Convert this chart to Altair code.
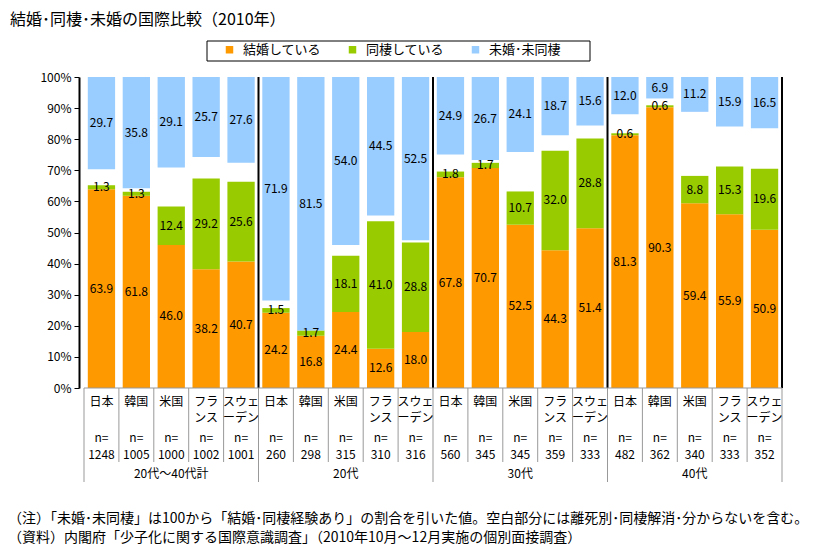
import altair as alt
import pandas as pd

FONT = "Noto Sans CJK JP"

groups = ["20代～40代計", "20代", "30代", "40代"]
countries = ["日本", "韓国", "米国", "フラ\nンス", "スウェ\nーデン"]
n_values = [1248, 1005, 1000, 1002, 1001,
            260, 298, 315, 310, 316,
            560, 345, 345, 359, 333,
            482, 362, 340, 333, 352]
married = [63.9, 61.8, 46.0, 38.2, 40.7,
           24.2, 16.8, 24.4, 12.6, 18.0,
           67.8, 70.7, 52.5, 44.3, 51.4,
           81.3, 90.3, 59.4, 55.9, 50.9]
cohabiting = [1.3, 1.3, 12.4, 29.2, 25.6,
              1.5, 1.7, 18.1, 41.0, 28.8,
              1.8, 1.7, 10.7, 32.0, 28.8,
              0.6, 0.6, 8.8, 15.3, 19.6]
single = [29.7, 35.8, 29.1, 25.7, 27.6,
          71.9, 81.5, 54.0, 44.5, 52.5,
          24.9, 26.7, 24.1, 18.7, 15.6,
          12.0, 6.9, 11.2, 15.9, 16.5]
series = ["結婚している", "同棲している", "未婚･未同棲"]
colors = ["#FF9900", "#99CC00", "#99CCFF"]
y_ticks = list(range(0, 101, 10))

title_text = "結婚･同棲･未婚の国際比較（2010年）"
notes = [
    "（注）「未婚･未同棲」は100から「結婚･同棲経験あり」の割合を引いた値。空白部分には離死別･同棲解消･分からないを含む。",
    "（資料）内閣府「少子化に関する国際意識調査」（2010年10月～12月実施の個別面接調査）",
]

# ---- build tables from the lists ----
seg_rows, cat_rows = [], []
n_cat = len(n_values)
per_group = len(countries)
for i in range(n_cat):
    pos = i + 0.5
    m, c, s = married[i], cohabiting[i], single[i]
    seg_rows.append(dict(pos=pos, series=series[0], y0=0, y1=m, value=m))
    seg_rows.append(dict(pos=pos, series=series[1], y0=m, y1=m + c, value=c))
    seg_rows.append(dict(pos=pos, series=series[2], y0=100 - s, y1=100, value=s))
    parts = countries[i % per_group].split("\n")
    cat_rows.append(dict(pos=pos, line1=parts[0],
                         line2=parts[1] if len(parts) > 1 else "",
                         n=str(n_values[i])))
seg = pd.DataFrame(seg_rows)
cats = pd.DataFrame(cat_rows)
grp = pd.DataFrame(dict(pos=[g * per_group + per_group / 2 for g in range(len(groups))],
                        label=groups))
bounds = pd.DataFrame(dict(x=[g * per_group for g in range(1, len(groups) + 1)]))
all_lines = pd.DataFrame(dict(x=[i for i in range(n_cat + 1) if i % per_group != 0]))
grp_lines = pd.DataFrame(dict(x=[g * per_group for g in range(len(groups) + 1)]))
one = pd.DataFrame(dict(k=[0]))

W, H = 708, 311
xscale = alt.Scale(domain=[0, n_cat], nice=False, zero=False)
yscale = alt.Scale(domain=[0, 100], nice=False)
yaxis = alt.Axis(values=y_ticks, labelExpr="datum.value + '%'", grid=False,
                 domainColor="black", domainWidth=2, tickColor="black",
                 tickSize=5, tickWidth=1, labelFontSize=12, labelColor="black",
                 labelPadding=3, labelFont=FONT, labelOverlap=False,
                 labelFlush=False, orient="left")

bars = alt.Chart(seg).mark_bar(size=27.3).encode(
    x=alt.X("pos:Q", scale=xscale, axis=None),
    y=alt.Y("y0:Q", scale=yscale, title="", axis=yaxis),
    y2="y1:Q",
    color=alt.Color("series:N", scale=alt.Scale(domain=series, range=colors),
                    legend=alt.Legend(orient="none", legendX=144, legendY=-34,
                                      direction="horizontal", title=None,
                                      symbolType="square", symbolSize=56,
                                      symbolStrokeWidth=0, labelFontSize=13,
                                      labelFont=FONT, labelColor="black",
                                      labelOffset=7, columnPadding=24, labelLimit=300)),
)

values = alt.Chart(seg).transform_calculate(
    mid="(datum.y0 + datum.y1) / 2"
).mark_text(fontSize=12, font=FONT, color="black").encode(
    x=alt.X("pos:Q", scale=xscale, axis=None),
    y=alt.Y("mid:Q", scale=yscale, axis=None),
    text=alt.Text("value:Q", format=".1f"),
)

sep_in = alt.Chart(bounds).mark_rule(color="black", strokeWidth=2).encode(
    x=alt.X("x:Q", scale=xscale, axis=None), y=alt.value(0), y2=alt.value(H))

base_line = alt.Chart(one).mark_rule(color="#999999", strokeWidth=1).encode(
    x=alt.datum(0, scale=xscale, axis=None), x2=alt.datum(n_cat), y=alt.value(H))

cat_sep = alt.Chart(all_lines).mark_rule(color="#999999", strokeWidth=1).encode(
    x=alt.X("x:Q", scale=xscale, axis=None), y=alt.value(H), y2=alt.value(385))
grp_sep = alt.Chart(grp_lines).mark_rule(color="#999999", strokeWidth=1).encode(
    x=alt.X("x:Q", scale=xscale, axis=None), y=alt.value(H), y2=alt.value(405))

txt = dict(fontSize=12, font=FONT, color="black", baseline="middle")
name1 = alt.Chart(cats).mark_text(**txt).encode(
    x=alt.X("pos:Q", scale=xscale, axis=None), y=alt.value(325), text="line1:N")
name2 = alt.Chart(cats).mark_text(**txt).encode(
    x=alt.X("pos:Q", scale=xscale, axis=None), y=alt.value(341), text="line2:N")
neq = alt.Chart(cats).mark_text(**txt).encode(
    x=alt.X("pos:Q", scale=xscale, axis=None), y=alt.value(361), text=alt.value("n="))
nval = alt.Chart(cats).mark_text(**txt).encode(
    x=alt.X("pos:Q", scale=xscale, axis=None), y=alt.value(378), text="n:N")
glab = alt.Chart(grp).mark_text(**txt).encode(
    x=alt.X("pos:Q", scale=xscale, axis=None), y=alt.value(397), text="label:N")

legend_box = alt.Chart(one).mark_rect(fill="white", fillOpacity=0, stroke="black",
                                      strokeWidth=1).encode(
    x=alt.value(128), x2=alt.value(511), y=alt.value(-36), y2=alt.value(-16))

title = alt.Chart(one).mark_text(fontSize=16, font=FONT, color="black", align="left",
                                 baseline="middle", text=title_text).encode(
    x=alt.value(-69), y=alt.value(-57))

note_style = dict(fontSize=14, font=FONT, color="black", align="left", baseline="middle")
note1 = alt.Chart(one).mark_text(text=notes[0], **note_style).encode(
    x=alt.value(-71), y=alt.value(442))
note2 = alt.Chart(one).mark_text(text=notes[1], **note_style).encode(
    x=alt.value(-71), y=alt.value(461))

chart = alt.layer(
    legend_box, bars, values, sep_in, base_line, cat_sep, grp_sep,
    name1, name2, neq, nval, glab, title, note1, note2
).resolve_scale(y="independent").properties(
    width=W, height=H, autosize="none",
    padding={"left": 71, "top": 69, "right": 20, "bottom": 165},
).configure(font=FONT).configure_view(stroke=None)

chart.save("out.html", embed_options={"renderer": "svg", "actions": False})
